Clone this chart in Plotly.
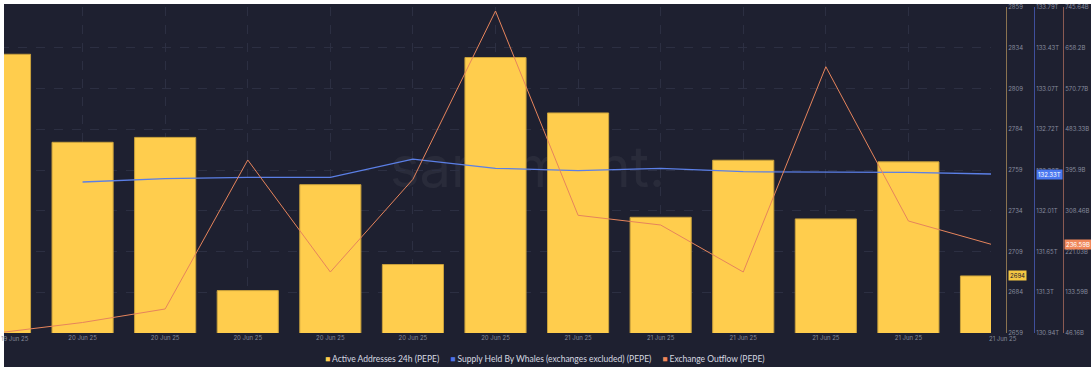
import plotly.graph_objects as go

# ---------------- data ----------------
x_labels = ["19 Jun 25"] + ["20 Jun 25"] * 6 + ["21 Jun 25"] * 6
active_addresses = [2830, 2776, 2779, 2685, 2750, 2701, 2828, 2794, 2730, 2765, 2729, 2764, 2694]
whale_supply = [None, 132.26, 132.29, 132.30, 132.30, 132.46, 132.38, 132.36, 132.38, 132.35, 132.35, 132.345, 132.33]
exchange_outflow = [47.0, 68.7, 97.7, 417.4, 177.0, 375.9, 737.0, 298.7, 277.9, 177.0, 617.5, 286.5, 236.59]

series_names = ["Active Addresses 24h (PEPE)",
                "Supply Held By Whales (exchanges excluded) (PEPE)",
                "Exchange Outflow (PEPE)"]

active_tick_labels = ["2659", "2684", "2709", "2734", "2759", "2784", "2809", "2834", "2859"]
whale_tick_labels = ["130.94T", "131.3T", "131.65T", "132.01T", "132.36T", "132.72T", "133.07T", "133.43T", "133.79T"]
outflow_tick_labels = ["46.16B", "133.59B", "221.03B", "308.46B", "395.9B", "483.33B", "570.77B", "658.2B", "745.64B"]

# ---------------- style ----------------
W, H = 1091, 371
BG = "#1e2030"
GRID = "#2c2f42"
TICK = "#858a9c"
GOLD = "#ffcd4d"
BLUE = "#5b7fe6"
ORANGE = "#e6845c"
FONT = "Inter"
LFONT = "Lato"

PLOT_TOP, PLOT_BOT = 7, 333
PH = PLOT_BOT - PLOT_TOP


def py(pixel_y):
    return (PLOT_BOT - pixel_y) / PH


def px(pixel_x):
    return pixel_x / W


active_ticks = [float(t) for t in active_tick_labels]
whale_ticks = [float(t[:-1]) for t in whale_tick_labels]
outflow_ticks = [float(t[:-1]) for t in outflow_tick_labels]

x_idx = list(range(len(x_labels)))

fig = go.Figure()
fig.add_bar(x=x_idx, y=active_addresses, width=0.74, name=series_names[0], yaxis="y",
            marker=dict(color=GOLD, line=dict(color="#c9a13c", width=1)))
fig.add_scatter(x=x_idx, y=whale_supply, mode="lines", name=series_names[1], yaxis="y2",
                line=dict(color=BLUE, width=1.3), connectgaps=False)
fig.add_scatter(x=x_idx, y=exchange_outflow, mode="lines", name=series_names[2], yaxis="y3",
                line=dict(color=ORANGE, width=1))

axis_common = dict(anchor="free", side="right", showline=True, linewidth=1, ticks="",
                   tickfont=dict(size=6, color=TICK, family=FONT), zeroline=False,
                   fixedrange=True)

fig.update_layout(
    width=W, height=H,
    margin=dict(l=0, r=0, t=PLOT_TOP, b=H - PLOT_BOT),
    paper_bgcolor="white", plot_bgcolor=BG,
    showlegend=False,
    font=dict(family=FONT),
    xaxis=dict(domain=[0, px(991)], range=[0, len(x_labels) - 1], tickvals=x_idx[1:-1],
               ticktext=x_labels[1:-1], tickfont=dict(size=6, color=TICK, family=FONT),
               showgrid=True, gridcolor=GRID, griddash="dash", gridwidth=1, ticks="",
               zeroline=False, showline=False),
    yaxis=dict(axis_common, position=px(1006), range=[active_ticks[0], active_ticks[-1]],
               tickvals=active_ticks, ticktext=active_tick_labels, linecolor="#8a7350",
               showgrid=True, gridcolor=GRID, griddash="dash", gridwidth=1),
    yaxis2=dict(axis_common, overlaying="y", position=px(1034), range=[whale_ticks[0], whale_ticks[-1]],
                tickvals=whale_ticks, ticktext=whale_tick_labels, linecolor="#3f4f9c", showgrid=False),
    yaxis3=dict(axis_common, overlaying="y", position=px(1063), range=[outflow_ticks[0], outflow_ticks[-1]],
                tickvals=outflow_ticks, ticktext=outflow_tick_labels, linecolor="#8a5a52", showgrid=False),
)

shapes = [
    # dark card background
    dict(type="rect", xref="paper", yref="paper", x0=px(4), x1=1.0, y0=py(367), y1=py(4),
         fillcolor=BG, line=dict(width=0), layer="below"),
    # watermark
    dict(type="rect", xref="paper", yref="paper", x0=px(380), x1=px(675), y0=py(200), y1=py(130),
         fillcolor="rgba(0,0,0,0)", line=dict(width=0), layer="below",
         label=dict(text="santiment.", textposition="middle center",
                    font=dict(size=56, color="rgba(255,255,255,0.05)", family=FONT))),
    # white left edge
    dict(type="rect", xref="paper", yref="paper", x0=0, x1=px(4), y0=-0.2, y1=1.1,
         fillcolor="white", line=dict(width=0), layer="above"),
]
fig.update_layout(shapes=shapes)

ann = []
# edge x labels
ann.append(dict(x=0, xref="x", y=py(339), yref="paper", text=x_labels[0], showarrow=False,
                xanchor="left", yanchor="middle", xshift=-1, font=dict(size=6, color=TICK, family=FONT)))
ann.append(dict(x=len(x_labels) - 1, xref="x", y=py(339), yref="paper", text=x_labels[-1], showarrow=False,
                xanchor="center", yanchor="middle", xshift=12, font=dict(size=6, color=TICK, family=FONT)))

# last-value tags
ann.append(dict(x=px(1007.5), xref="paper", y=active_addresses[-1], yref="y", text=f"{active_addresses[-1]}",
                showarrow=False, xanchor="left", yanchor="middle", bgcolor="#f5c842", borderpad=1,
                font=dict(size=6, color="#1e2030", family=FONT)))
ann.append(dict(x=px(1035.5), xref="paper", y=whale_supply[-1], yref="y2", text=f"{whale_supply[-1]:.2f}T",
                showarrow=False, xanchor="left", yanchor="middle", bgcolor="#4a78f0", borderpad=1,
                font=dict(size=6, color="white", family=FONT)))
ann.append(dict(x=px(1064), xref="paper", y=exchange_outflow[-1], yref="y3", text=f"{exchange_outflow[-1]:.2f}B",
                showarrow=False, xanchor="left", yanchor="middle", bgcolor="#f0875a", borderpad=1,
                font=dict(size=6, color="white", family=FONT)))

# legend (manual, compact squares) as one centred line
legend_colors = [GOLD, "#4f72e8", "#f0875a"]
legend_text = "     ".join(f'<span style="color:{c}">■</span> {n}' for n, c in zip(series_names, legend_colors))
ann.append(dict(x=px(545), xref="paper", y=py(359), yref="paper", showarrow=False,
                xanchor="center", yanchor="middle", text=legend_text,
                font=dict(size=8.5, color="#d6d9e0", family=LFONT)))

fig.update_layout(annotations=ann)

fig.write_html("out.html", config={"displayModeBar": False},
               post_script="document.body.style.margin='0';")
